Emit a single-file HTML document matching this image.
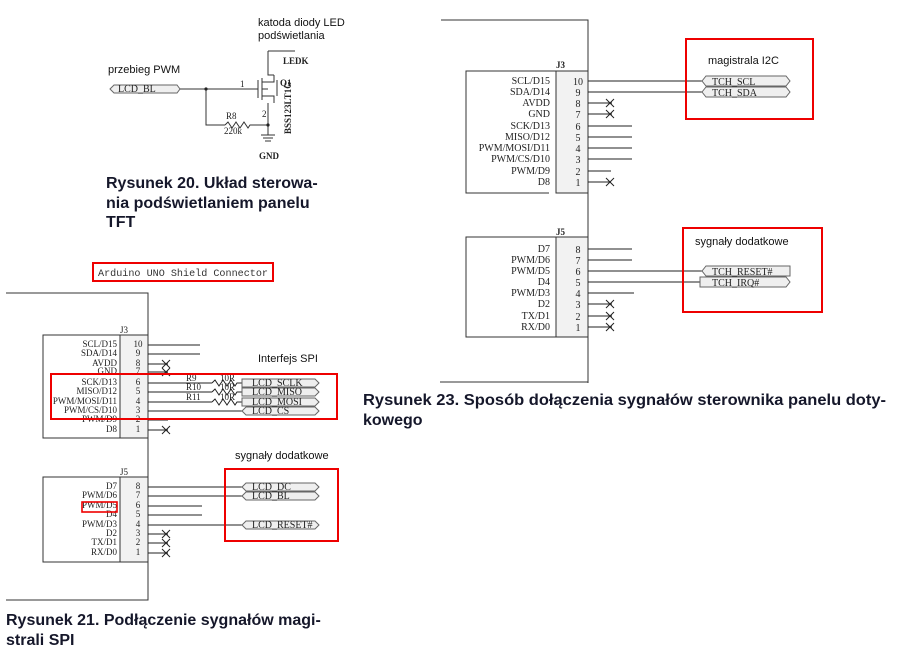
<!DOCTYPE html>
<html><head><meta charset="utf-8"><style>
html,body{margin:0;padding:0;background:#fff;}
svg{display:block;}
.m{font-family:"Liberation Serif",serif;font-size:9px;fill:#222;}
.n{font-family:"Liberation Serif",serif;font-size:10px;fill:#222;}
.s{font-family:"Liberation Sans",sans-serif;font-size:11px;fill:#111;}
.c{font-family:"Liberation Sans",sans-serif;font-size:16px;font-weight:bold;fill:#15172a;}
.tg{fill:#efefef;stroke:#666;stroke-width:1;}
.tt{font-family:"Liberation Serif",serif;font-size:10px;fill:#222;}
</style></head><body>
<svg width="900" height="651" viewBox="0 0 900 651" xmlns="http://www.w3.org/2000/svg">
<rect width="900" height="651" fill="#fff"/>

<!-- ===== Figure 20 ===== -->
<text class="s" x="258" y="26">katoda diody LED</text>
<text class="s" x="258" y="39">podświetlania</text>
<text class="s" x="108" y="73">przebieg PWM</text>
<path class="tg" d="M110,89 L114,85 L177,85 L180,89 L177,93 L114,93 Z"/>
<text class="tt" x="118" y="92" font-size="8">LCD_BL</text>
<g stroke="#333" fill="none" stroke-width="1">
<path d="M180,89 H258"/>
<path d="M206,89 V125 H225"/>
<path d="M225,125 l3,-3 l4,6 l4,-6 l4,6 l4,-6 l4,6 l2,-3 H268"/>
<path d="M268,51 H295"/>
<path d="M268,51 V75 H274"/>
<path d="M258,80 V98 M262,78 V100 M262,89 H268 M262,82 H274 V75 M262,96 H274 V103"/>
<path d="M277,80 V96"/>
<path d="M268,103 V135"/>
<path d="M261,135 H275 M263,138 H273 M265,141 H271"/>
</g>
<circle cx="206" cy="89" r="1.6" fill="#222"/>
<circle cx="268" cy="125" r="1.6" fill="#222"/>
<text class="m" x="240" y="87" font-size="7">1</text>
<text class="m" x="262" y="117" font-size="7">2</text>
<text class="m" x="283" y="64" font-size="7" font-weight="bold">LEDK</text>
<text class="m" x="280" y="86" font-size="7" font-weight="bold">Q1</text>
<text class="m" x="226" y="119" font-size="7">R8</text>
<text class="m" x="224" y="134" font-size="6">220k</text>
<text class="m" x="259" y="159" font-size="8" font-weight="bold">GND</text>
<text class="m" font-size="7" font-weight="bold" transform="translate(291,134) rotate(-90)">BSS123LT1G</text>
<text class="c" x="106" y="188">Rysunek 20. Układ sterowa-</text>
<text class="c" x="106" y="208">nia podświetlaniem panelu</text>
<text class="c" x="106" y="227">TFT</text>

<!-- ===== Figure 21 ===== -->
<rect x="93" y="263" width="180" height="18" fill="#fff" stroke="#e00" stroke-width="2"/>
<text x="98" y="276" font-family="Liberation Mono,monospace" font-size="10" fill="#333" textLength="170" lengthAdjust="spacingAndGlyphs">Arduino UNO Shield Connector</text>
<g stroke="#333" fill="none" stroke-width="1">
<path d="M6,293 H148 V600 H6"/>
<path d="M120,335 H43 V438 H120"/>
<rect x="120" y="335" width="28" height="103" fill="#f2f2f2"/>
<path d="M120,477 H43 V562 H120"/>
<rect x="120" y="477" width="28" height="85" fill="#f2f2f2"/>
</g>
<text class="m" x="120" y="333" font-size="7">J3</text>
<text class="m" x="120" y="475" font-size="7">J5</text>
<g class="m" font-size="7" text-anchor="end">
<text x="117" y="347">SCL/D15</text><text x="117" y="356">SDA/D14</text><text x="117" y="366">AVDD</text><text x="117" y="374">GND</text>
<text x="117" y="385">SCK/D13</text><text x="117" y="394">MISO/D12</text><text x="117" y="404">PWM/MOSI/D11</text><text x="117" y="413">PWM/CS/D10</text>
<text x="117" y="422">PWM/D9</text><text x="117" y="432">D8</text>
<text x="117" y="489">D7</text><text x="117" y="498">PWM/D6</text><text x="117" y="508">PWM/D5</text><text x="117" y="517">D4</text>
<text x="117" y="527">PWM/D3</text><text x="117" y="536">D2</text><text x="117" y="545">TX/D1</text><text x="117" y="555">RX/D0</text>
</g>
<g class="m" font-size="7.5" text-anchor="middle">
<text x="138" y="347">10</text><text x="138" y="356">9</text><text x="138" y="366">8</text><text x="138" y="374">7</text>
<text x="138" y="385">6</text><text x="138" y="394">5</text><text x="138" y="404">4</text><text x="138" y="413">3</text>
<text x="138" y="422">2</text><text x="138" y="432">1</text>
<text x="138" y="489">8</text><text x="138" y="498">7</text><text x="138" y="508">6</text><text x="138" y="517">5</text>
<text x="138" y="527">4</text><text x="138" y="536">3</text><text x="138" y="545">2</text><text x="138" y="555">1</text>
</g>
<g stroke="#222" fill="none" stroke-width="1">
<path d="M148,345 H200 M148,354 H200 M148,364 H168 M148,372 H168 M148,420 H168 M148,430 H168"/>
<path d="M148,383 H212 M148,392 H212 M148,402 H212 M148,411 H242"/>
<path d="M212,383 l3,-3 l4,6 l4,-6 l4,6 l4,-6 l4,6 l2,-3 H242"/>
<path d="M212,392 l3,-3 l4,6 l4,-6 l4,6 l4,-6 l4,6 l2,-3 H242"/>
<path d="M212,402 l3,-3 l4,6 l4,-6 l4,6 l4,-6 l4,6 l2,-3 H242"/>
<path d="M148,487 H242 M148,496 H242 M148,506 H202 M148,515 H202 M148,525 H242 M148,534 H168 M148,543 H168 M148,553 H168"/>
<path d="M162,360 l8,8 M170,360 l-8,8 M162,368 l8,8 M170,368 l-8,8 M162,426 l8,8 M170,426 l-8,8 M162,530 l8,8 M170,530 l-8,8 M162,539 l8,8 M170,539 l-8,8 M162,549 l8,8 M170,549 l-8,8"/>
</g>
<g class="m" font-size="7.5"><text x="186" y="381">R9</text><text x="186" y="390">R10</text><text x="186" y="400">R11</text>
<text x="220" y="381">10R</text><text x="220" y="390">10R</text><text x="220" y="400">10R</text></g>
<path class="tg" d="M242,379 L315,379 L319,383 L315,387 L242,387 Z"/>
<path class="tg" d="M242,388 L315,388 L319,392 L315,396 L242,396 Z"/>
<path class="tg" d="M242,398 L315,398 L319,402 L315,406 L242,406 Z"/>
<path class="tg" d="M242,411 L246,407 L315,407 L319,411 L315,415 L246,415 Z"/>
<g class="tt" font-size="8.5"><text x="252" y="386">LCD_SCLK</text><text x="252" y="395">LCD_MISO</text><text x="252" y="405">LCD_MOSI</text><text x="252" y="414">LCD_CS</text></g>
<text class="s" x="258" y="362">Interfejs SPI</text>
<rect x="51" y="374" width="286" height="45" fill="none" stroke="#e00" stroke-width="2"/>
<text class="s" x="235" y="459">sygnały dodatkowe</text>
<path class="tg" d="M242,487 L246,483 L315,483 L319,487 L315,491 L246,491 Z"/>
<path class="tg" d="M242,496 L246,492 L315,492 L319,496 L315,500 L246,500 Z"/>
<path class="tg" d="M242,525 L246,521 L315,521 L319,525 L315,529 L246,529 Z"/>
<g class="tt" font-size="8.5"><text x="252" y="490">LCD_DC</text><text x="252" y="499">LCD_BL</text><text x="252" y="528">LCD_RESET#</text></g>
<rect x="225" y="469" width="113" height="72" fill="none" stroke="#e00" stroke-width="2"/>
<rect x="82" y="502" width="35" height="10" fill="none" stroke="#e00" stroke-width="1.6"/>
<text class="c" x="6" y="625">Rysunek 21. Podłączenie sygnałów magi-</text>
<text class="c" x="6" y="645">strali SPI</text>

<!-- ===== Figure 23 ===== -->
<g stroke="#333" fill="none" stroke-width="1">
<path d="M441,20 H588 V383 M440,382 H588"/>
<path d="M556,71 H466 V193 H549"/>
<rect x="556" y="71" width="32" height="122" fill="#f2f2f2"/>
<path d="M556,237 H466 V337 H556"/>
<rect x="556" y="237" width="32" height="100" fill="#f2f2f2"/>
</g>
<text class="m" x="556" y="68" font-weight="bold">J3</text>
<text class="m" x="556" y="235" font-weight="bold">J5</text>
<g class="n" text-anchor="end" font-family="Liberation Mono,monospace" font-size="9">
<text x="550" y="84">SCL/D15</text><text x="550" y="95">SDA/D14</text><text x="550" y="106">AVDD</text><text x="550" y="117">GND</text>
<text x="550" y="129">SCK/D13</text><text x="550" y="140">MISO/D12</text><text x="550" y="151">PWM/MOSI/D11</text><text x="550" y="162">PWM/CS/D10</text>
<text x="550" y="174">PWM/D9</text><text x="550" y="185">D8</text>
<text x="550" y="252">D7</text><text x="550" y="263">PWM/D6</text><text x="550" y="274">PWM/D5</text><text x="550" y="285">D4</text>
<text x="550" y="296">PWM/D3</text><text x="550" y="307">D2</text><text x="550" y="319">TX/D1</text><text x="550" y="330">RX/D0</text>
</g>
<g class="n" text-anchor="middle">
<text x="578" y="85">10</text><text x="578" y="96">9</text><text x="578" y="107">8</text><text x="578" y="118">7</text>
<text x="578" y="130">6</text><text x="578" y="141">5</text><text x="578" y="152">4</text><text x="578" y="163">3</text>
<text x="578" y="175">2</text><text x="578" y="186">1</text>
<text x="578" y="253">8</text><text x="578" y="264">7</text><text x="578" y="275">6</text><text x="578" y="286">5</text>
<text x="578" y="297">4</text><text x="578" y="308">3</text><text x="578" y="320">2</text><text x="578" y="331">1</text>
</g>
<g stroke="#222" fill="none" stroke-width="1">
<path d="M588,81 H702 M588,92 H702 M588,103 H612 M588,114 H612 M588,126 H632 M588,137 H632 M588,148 H632 M588,159 H632 M588,171 H611 M588,182 H611"/>
<path d="M588,249 H632 M588,260 H632 M588,271 H702 M588,282 H700 M588,293 H634 M588,304 H612 M588,316 H612 M588,327 H612"/>
<path d="M606,99 l8,8 M614,99 l-8,8 M606,110 l8,8 M614,110 l-8,8 M606,178 l8,8 M614,178 l-8,8 M606,300 l8,8 M614,300 l-8,8 M606,312 l8,8 M614,312 l-8,8 M606,323 l8,8 M614,323 l-8,8"/>
</g>
<rect x="686" y="39" width="127" height="80" fill="none" stroke="#e00" stroke-width="2"/>
<text class="s" x="708" y="64">magistrala I2C</text>
<path class="tg" d="M702,81 L706,76 L786,76 L790,81 L786,86 L706,86 Z"/>
<path class="tg" d="M702,92 L706,87 L786,87 L790,92 L786,97 L706,97 Z"/>
<g class="tt"><text x="712" y="85">TCH_SCL</text><text x="712" y="96">TCH_SDA</text></g>
<rect x="683" y="228" width="139" height="84" fill="none" stroke="#e00" stroke-width="2"/>
<text class="s" x="695" y="245">sygnały dodatkowe</text>
<path class="tg" d="M702,271 L706,266 L790,266 L790,276 L706,276 Z"/>
<path class="tg" d="M700,277 L786,277 L790,282 L786,287 L700,287 Z"/>
<g class="tt"><text x="712" y="275">TCH_RESET#</text><text x="712" y="286">TCH_IRQ#</text></g>
<text class="c" x="363" y="405" textLength="523" lengthAdjust="spacingAndGlyphs">Rysunek 23. Sposób dołączenia sygnałów sterownika panelu doty-</text>
<text class="c" x="363" y="425">kowego</text>
</svg>
</body></html>
